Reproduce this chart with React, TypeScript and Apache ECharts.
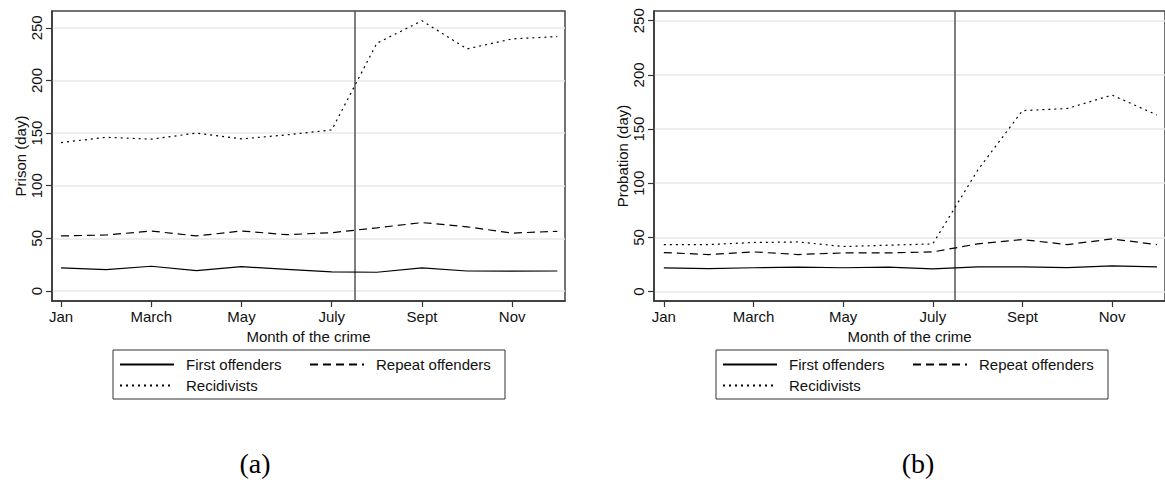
import React, { useEffect, useRef } from "react";
import * as echarts from "echarts";

const months = [1, 2, 3, 4, 5, 6, 7, 8, 9, 10, 11, 12];
const xTickValues = [1, 3, 5, 7, 9, 11];
const xTickLabels = ["Jan", "March", "May", "July", "Sept", "Nov"];
const yTickValues = [0, 50, 100, 150, 200, 250];
const cutoffMonth = 7.5;
const seriesNames = ["First offenders", "Repeat offenders", "Recidivists"];

// (a) Prison (day)
const prisonFirst = [22, 20.3, 23.5, 19.3, 23.1, 20.6, 18.1, 17.8, 21.9, 19, 18.8, 19];
const prisonRepeat = [52.3, 53.2, 57, 52.3, 57, 53.5, 55.4, 60, 65, 61, 55, 56.7];
const prisonRecid = [141, 146, 144.2, 150, 144.5, 148.3, 153, 235.4, 256.7, 230, 239.5, 241.7];

// (b) Probation (day)
const probFirst = [21.8, 21.2, 22, 22.6, 22, 22.6, 20.9, 22.8, 22.8, 22.2, 23.7, 22.8];
const probRepeat = [36, 34.2, 36.6, 34.2, 35.7, 35.7, 36.6, 44, 48, 43.4, 48.6, 43.4];
const probRecid = [43.4, 43.4, 45.3, 45.8, 41.6, 42.8, 44, 112, 167, 169, 181.4, 163];

const FONT = "'Liberation Sans', Arial, Helvetica, sans-serif";
const TXT = "#111";
const dashStyles: any[] = ["solid", [8, 5], [2, 4]];

function makeSeries(values: number[][], idx: number) {
  return values.map((vals, k) => {
    const s: any = {
      type: "line",
      name: seriesNames[k],
      xAxisIndex: idx,
      yAxisIndex: idx,
      data: months.map((m, i) => [m, vals[i]]),
      symbol: "none",
      showSymbol: false,
      silent: true,
      emphasis: { disabled: true },
      lineStyle: { color: "#000", width: 1.2, type: dashStyles[k] },
      itemStyle: { color: "#000" },
      z: 3,
    };
    if (k === 0) {
      s.markLine = {
        silent: true,
        symbol: ["none", "none"],
        label: { show: false },
        lineStyle: { color: "#555", width: 1.5, type: "solid" },
        data: [{ xAxis: cutoffMonth }],
        z: 2,
      };
    }
    return s;
  });
}

function makeXAxis(idx: number, min: number, max: number) {
  return {
    gridIndex: idx,
    type: "value",
    min,
    max,
    axisLine: { show: true, onZero: false, lineStyle: { color: "#333", width: 1.5 } },
    axisTick: { show: true, length: 6, customValues: xTickValues, lineStyle: { color: "#333", width: 1.2 } },
    axisLabel: {
      customValues: xTickValues,
      formatter: (v: number) => xTickLabels[xTickValues.indexOf(v)] ?? "",
      color: TXT,
      fontSize: 15,
      fontFamily: FONT,
      margin: 8,
    },
    splitLine: { show: false },
    name: "Month of the crime",
    nameLocation: "middle",
    nameGap: 24,
    nameTextStyle: { color: TXT, fontSize: 15, fontFamily: FONT },
  };
}

function makeYAxis(idx: number, min: number, max: number, name: string) {
  return {
    gridIndex: idx,
    type: "value",
    min,
    max,
    axisLine: { show: true, onZero: false, lineStyle: { color: "#333", width: 1.5 } },
    axisTick: { show: true, length: 6, customValues: yTickValues, lineStyle: { color: "#333", width: 1.2 } },
    axisLabel: {
      customValues: yTickValues,
      rotate: 90,
      color: TXT,
      fontSize: 15,
      fontFamily: FONT,
      margin: 8,
    },
    splitLine: { show: true, lineStyle: { color: "#e8e8e8", width: 1.5 } },
    name,
    nameLocation: "middle",
    nameGap: 24,
    nameTextStyle: { color: TXT, fontSize: 15, fontFamily: FONT },
  };
}

function makeLegend(left: number) {
  return {
    left,
    top: 350,
    width: 395,
    orient: "horizontal",
    itemWidth: 54,
    itemHeight: 14,
    itemGap: 0,
    padding: [4, 6, 3, 6],
    borderColor: "#333",
    borderWidth: 1,
    backgroundColor: "#fff",
    selectedMode: false,
    data: seriesNames,
    itemStyle: { opacity: 0, color: "transparent", borderColor: "transparent", borderWidth: 0 },
    textStyle: {
      color: TXT,
      fontSize: 15,
      fontFamily: FONT,
      width: 123,
      lineHeight: 21,
      padding: [0, 0, 0, 7],
    },
  };
}

export default function App() {
  const ref = useRef<HTMLDivElement>(null);
  useEffect(() => {
    if (!ref.current) return;
    const chart = echarts.init(ref.current, undefined, { renderer: "svg" });
    chart.setOption({
      animation: false,
      backgroundColor: "#fff",
      grid: [
        { left: 52, top: 11, width: 513, height: 290, show: true, borderColor: "#444", borderWidth: 1.5 },
        { left: 654, top: 11, width: 513, height: 290, show: true, borderColor: "#444", borderWidth: 1.5 },
      ],
      xAxis: [makeXAxis(0, 0.8, 12.17), makeXAxis(1, 0.78, 12.18)],
      yAxis: [
        makeYAxis(0, -9.5, 266, "Prison (day)"),
        makeYAxis(1, -8.7, 259, "Probation (day)"),
      ],
      legend: [makeLegend(113), makeLegend(716)],
      series: [
        ...makeSeries([prisonFirst, prisonRepeat, prisonRecid], 0),
        ...makeSeries([probFirst, probRepeat, probRecid], 1),
      ],
      graphic: [
        {
          type: "text",
          x: 255,
          y: 463,
          style: { text: "(a)", font: "28px 'Liberation Serif', 'Times New Roman', serif", fill: "#000", align: "center", verticalAlign: "middle" },
        },
        {
          type: "text",
          x: 918,
          y: 463,
          style: { text: "(b)", font: "28px 'Liberation Serif', 'Times New Roman', serif", fill: "#000", align: "center", verticalAlign: "middle" },
        },
      ],
    });
    return () => chart.dispose();
  }, []);
  return <div ref={ref} style={{ position: "absolute", left: 0, top: 0, width: 1165, height: 480 }} />;
}
